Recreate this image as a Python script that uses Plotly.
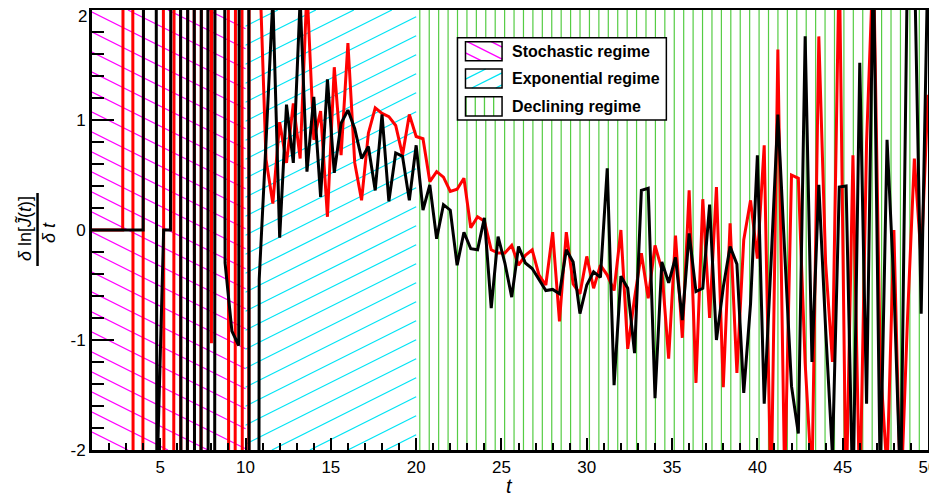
import plotly.graph_objects as go

# ---------------- data ----------------
BIG = 50.0  # off-scale values (drawn as near-vertical lines, clipped by the axes)
t = [round(0.4 * k, 1) for k in range(2, 126)]  # 0.8 ... 50.0

red_stoch = [0, 0, 0, 0, 0, 0, BIG, -BIG, 0, BIG, BIG, 0, -BIG, BIG, -BIG, BIG, -BIG, BIG,
             -1.03, BIG, BIG, -BIG, BIG, -BIG, BIG]
red_exp = [2.5, 0.64, 0.24, 0.98, 0.61, 1.15, 0.65, 2.2, 0.82, 1.08, 0.12, 1.48, 0.68, 1.70,
           0.61, 0.27, 0.88, 1.11, 1.06, 1.03, 0.95, 0.68, 1.05, 0.85]
red_decl = [0.83, 0.44, 0.53, 0.48, 0.35, 0.37, 0.47, 0.02, 0.12, 0.08,
            -0.18, -0.21, -0.21, -0.14, -0.32, -0.23, -0.18, -0.41, -0.50, -0.02,
            -0.83, -0.02, -0.49, -0.58, -0.24, -0.53, -0.32, -0.41, -0.55, 0.0,
            -1.08, -0.62, -0.21, -0.62, -0.14, -0.36, -1.17, -0.05, -0.98, 0.36,
            -1.39, 0.28, -0.80, 0.39, -1.43, 0.06, -1.30, -0.09, 0.27, -0.26,
            0.77, -2.5, 1.64, -2.3, 0.50, 0.47, -1.21, -2.3, 1.76, -0.3,
            -1.2, 2.5, -2.5, 0.68, -2.5, 0.8, 2.5, -1.2, -2.2, 0.0,
            -2.5, -0.8, 0.65, -0.27, 1.23]

black_stoch = [0, 0, 0, 0, 0, 0, 0, 0, 0, BIG, -2.3, 0, 0, BIG, -BIG, BIG, -BIG, BIG, -BIG,
               BIG, -0.3, -0.92, -1.05, BIG, -BIG]
black_exp = [-0.45, 0.8, 2.1, -0.07, 1.14, 0.61, 2.1, 0.53, 1.21, 0.30, 1.37, 0.52, 0.97, 1.09,
             0.92, 0.65, 0.76, 0.36, 1.05, 0.26, 0.70, 0.67, 0.27, 0.77]
black_decl = [0.18, 0.41, -0.08, 0.23, 0.18, -0.32, -0.02, -0.17, -0.18, 0.11,
              -0.71, -0.06, -0.30, -0.61, -0.15, -0.30, -0.35, -0.45, -0.55, -0.54,
              -0.58, -0.18, -0.29, -0.76, -0.50, -0.38, -0.43, 0.56, -1.41, -0.42,
              -0.53, -1.12, 0.36, 0.38, -1.53, -0.29, -0.48, -0.25, -0.82, -0.03,
              -0.56, -0.53, 0.23, -1.0, -0.52, -0.15, -0.31, -1.48, -0.67, 0.68,
              -1.58, -0.3, 1.05, -0.2, -1.42, -1.85, 1.76, -1.20, 0.41, -0.9,
              -2.05, 0.39, 0.40, -2.5, 1.52, -1.58, 2.5, -2.3, 0.82, -0.5,
              -2.4, 2.5, 2.5, -0.76, 2.5]

red = red_stoch + red_exp + red_decl
black = black_stoch + black_exp + black_decl
assert len(red) == len(t) == len(black)

regime_names = ["Stochastic regime", "Exponential regime", "Declining regime"]
regime_bounds = [(1, 10), (10, 20), (20, 50)]
x_ticks = [5, 10, 15, 20, 25, 30, 35, 40, 45, 50]
y_ticks = [-2, -1, 0, 1, 2]

# ---------------- geometry ----------------
# page pixels measured on the target; the figure div sits 8px in from the page corner
OFF = 8
W, H = 937 - OFF, 496 - OFF
PX0, PX1 = 92.0 - OFF, 928.5 - OFF      # plot area left/right (figure px)
PY0, PY1 = 10.0 - OFF, 450.0 - OFF      # plot area top/bottom (figure px)
XR = (1, 50)
YR = (-2, 2)
SX = (PX1 - PX0) / (XR[1] - XR[0])
SY = (PY1 - PY0) / (YR[1] - YR[0])


def fp(px, py):
    """page px -> figure px"""
    return px - OFF, py - OFF


def px_to_data(px, py):
    return XR[0] + (px - PX0) / SX, YR[1] - (py - PY0) / SY


def data_to_px(x, y):
    return PX0 + (x - XR[0]) * SX, PY0 + (YR[1] - y) * SY


def px_to_paper(px, py):
    return (px - PX0) / (PX1 - PX0), (PY1 - py) / (PY1 - PY0)


def page_to_paper(px, py):
    return px_to_paper(*fp(px, py))


def hatch(x0, x1, y0, y1, slope, spacing, phase=0.0):
    """segments of lines y = c + slope*x (pixel coords) clipped to rectangle"""
    segs = []
    if slope is None:  # vertical lines
        n = int((x0 - phase) // spacing) - 1
        while True:
            x = phase + n * spacing
            if x > x1:
                break
            if x >= x0:
                segs.append(((x, y0), (x, y1)))
            n += 1
        return segs
    cs = [y0 - slope * x for x in (x0, x1)] + [y1 - slope * x for x in (x0, x1)]
    cmin, cmax = min(cs), max(cs)
    n = int((cmin - phase) // spacing) - 1
    while True:
        c = phase + n * spacing
        if c > cmax + spacing:
            break
        xa = (y0 - c) / slope
        xb = (y1 - c) / slope
        lo = max(x0, min(xa, xb))
        hi = min(x1, max(xa, xb))
        if hi > lo:
            segs.append(((lo, c + slope * lo), (hi, c + slope * hi)))
        n += 1
    return segs


hatch_styles = [
    dict(color="#ff00ff", slope=0.5, spacing=20.0, phase=2.0, width=1.2),
    dict(color="#00e4f4", slope=-0.5, spacing=19.0, phase=4.0, width=1.2),
    dict(color="#55cc44", slope=None, spacing=9.43, phase=420.0 - OFF, width=1.2),
]

fig = go.Figure()

# regime hatching (computed from the region bounds)
for (r0, r1), st in zip(regime_bounds, hatch_styles):
    x0p, _ = data_to_px(r0, 0)
    x1p, _ = data_to_px(r1, 0)
    segs = hatch(x0p, x1p, PY0, PY1, st["slope"], st["spacing"], st["phase"])
    xs, ys = [], []
    for (a, b) in segs:
        xa, ya = px_to_data(*a)
        xb, yb = px_to_data(*b)
        xs += [xa, xb, None]
        ys += [ya, yb, None]
    fig.add_trace(go.Scatter(x=xs, y=ys, mode="lines", hoverinfo="skip", showlegend=False,
                             line=dict(color=st["color"], width=st["width"])))

# data lines
fig.add_trace(go.Scatter(x=t, y=red, mode="lines", showlegend=False,
                         line=dict(color="#ff0000", width=3, simplify=False)))
fig.add_trace(go.Scatter(x=t, y=black, mode="lines", showlegend=False,
                         line=dict(color="#000000", width=3, simplify=False)))

# ---------------- manual legend (page px) ----------------
shapes = []
annotations = []
lx0, lx1, ly0, ly1 = 457.7, 666.7, 37.7, 120.0
a, b = page_to_paper(lx0, ly0)
c, d = page_to_paper(lx1, ly1)
shapes.append(dict(type="rect", xref="paper", yref="paper", x0=a, y0=b, x1=c, y1=d,
                   fillcolor="white", line=dict(color="black", width=1.5), layer="above"))
rows = [(41.7, 60.7), (69.0, 88.0), (96.7, 116.0)]
patch_styles = [
    dict(color="#ff00ff", slope=0.5, spacing=12.0, phase=0.0),
    dict(color="#00e4f4", slope=-0.5, spacing=12.0, phase=0.0),
    dict(color="#55cc44", slope=None, spacing=9.2, phase=475.5),
]
for (py0, py1), name, st in zip(rows, regime_names, patch_styles):
    px0, px1 = 465.7, 502.3
    for (p, q) in hatch(px0, px1, py0, py1, st["slope"], st["spacing"], st["phase"]):
        u0, v0 = page_to_paper(*p)
        u1, v1 = page_to_paper(*q)
        shapes.append(dict(type="line", xref="paper", yref="paper", x0=u0, y0=v0, x1=u1, y1=v1,
                           line=dict(color=st["color"], width=1.3), layer="above"))
    a, b = page_to_paper(px0, py0)
    c, d = page_to_paper(px1, py1)
    shapes.append(dict(type="rect", xref="paper", yref="paper", x0=a, y0=b, x1=c, y1=d,
                       fillcolor="rgba(0,0,0,0)", line=dict(color="black", width=1.5), layer="above"))
    tx, ty = page_to_paper(510.7, (py0 + py1) / 2)
    annotations.append(dict(xref="paper", yref="paper", x=tx, y=ty, xanchor="left", yanchor="middle",
                            text="<b>%s</b>" % name, showarrow=False,
                            font=dict(family="Liberation Sans, Arial, sans-serif", size=16, color="black")))

tickfont = dict(family="Liberation Sans, Arial, sans-serif", size=17, color="black")

# top y tick label sits just inside the figure edge on the target
y_ticktext = [str(v) for v in y_ticks]
y_ticktext[-1] = ""
tx, ty = page_to_paper(87.5, 17.0)
annotations.append(dict(xref="paper", yref="paper", x=tx, y=ty, xanchor="right", yanchor="middle",
                        text=str(y_ticks[-1]), showarrow=False, borderpad=0, font=tickfont))

# axis titles
tx, ty = page_to_paper(510, 486)
annotations.append(dict(xref="paper", yref="paper", x=tx, y=ty, xanchor="center", yanchor="middle",
                        text="<i>t</i>", showarrow=False,
                        font=dict(family="Liberation Sans, Arial, sans-serif", size=20, color="black")))
tx, ty = page_to_paper(25, 229)
annotations.append(dict(xref="paper", yref="paper", x=tx, y=ty, xanchor="center", yanchor="middle",
                        text="<i>δ</i> ln[<i>J\u0303</i>(<i>t</i>)]", textangle=-90, showarrow=False,
                        font=dict(family="Liberation Sans, Arial, sans-serif", size=18, color="black")))
tx, ty = page_to_paper(49, 233)
annotations.append(dict(xref="paper", yref="paper", x=tx, y=ty, xanchor="center", yanchor="middle",
                        text="<i>δ t</i>", textangle=-90, showarrow=False,
                        font=dict(family="Liberation Sans, Arial, sans-serif", size=18, color="black")))
a, b = page_to_paper(37.5, 193)
c, d = page_to_paper(37.5, 266)
shapes.append(dict(type="line", xref="paper", yref="paper", x0=a, y0=b, x1=c, y1=d,
                   line=dict(color="black", width=2.5)))

fig.update_layout(
    width=W, height=H,
    margin=dict(l=PX0, r=W - PX1, t=PY0, b=H - PY1, pad=0, autoexpand=False),
    plot_bgcolor="white", paper_bgcolor="white",
    showlegend=False,
    shapes=shapes, annotations=annotations,
    xaxis=dict(range=list(XR), automargin=False, showgrid=False, zeroline=False, showline=True,
               linewidth=3, linecolor="black", mirror=True, ticks="inside", ticklen=12, tickwidth=1.5,
               tickcolor="black", tickvals=x_ticks, ticktext=[str(v) for v in x_ticks],
               tickfont=tickfont, ticklabeloverflow="allow",
               minor=dict(ticks="inside", ticklen=7, tickwidth=1.5, tickcolor="black",
                          dtick=1, tick0=0, showgrid=False)),
    yaxis=dict(range=list(YR), automargin=False, showgrid=False, zeroline=False, showline=True,
               linewidth=3, linecolor="black", mirror=True, ticks="inside", ticklen=22, tickwidth=1.5,
               tickcolor="black", tickvals=y_ticks, ticktext=y_ticktext,
               tickfont=tickfont, ticklabeloverflow="allow",
               minor=dict(ticks="inside", ticklen=12, tickwidth=1.5, tickcolor="black",
                          dtick=0.2, tick0=0, showgrid=False)),
)

fig.write_html("out.html")
